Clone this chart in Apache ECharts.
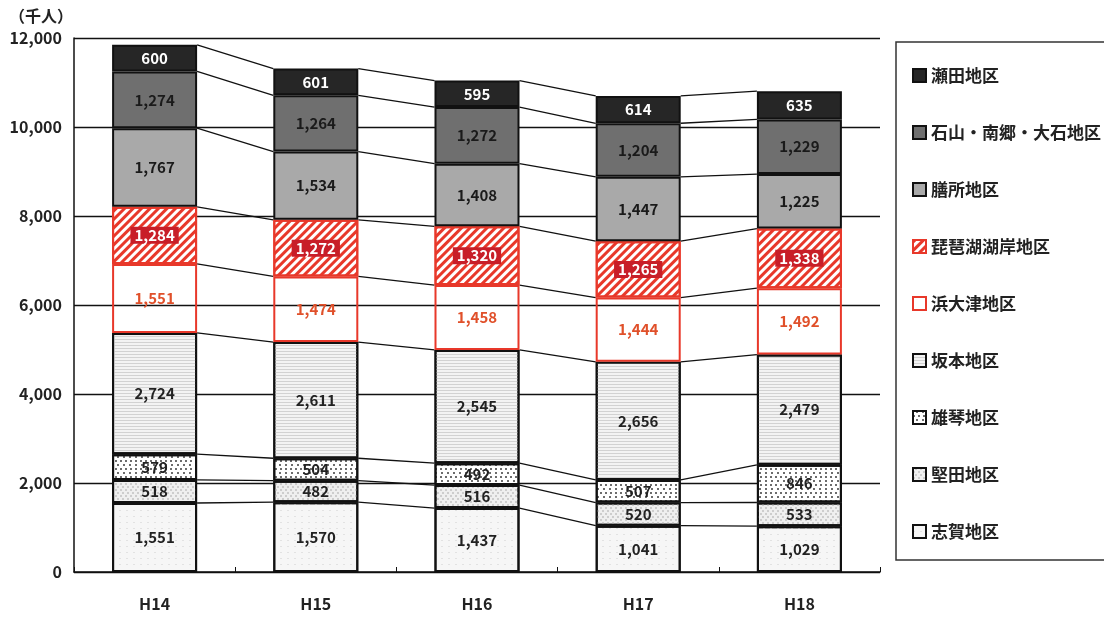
<!DOCTYPE html>
<html>
<head>
<meta charset="utf-8">
<script src="https://cdn.jsdelivr.net/npm/echarts@6/dist/echarts.min.js"></script>
<style>
  html, body { margin: 0; padding: 0; background: #fff; }
  #main { width: 1104px; height: 618px; }
</style>
</head>
<body>
<div id="main"></div>
<script>
// 年度
const years = ['H14', 'H15', 'H16', 'H17', 'H18'];
// 地区別 (千人) 下から順
const shiga = [1551, 1570, 1437, 1041, 1029];
const katata = [518, 482, 516, 520, 533];
const ogoto = [579, 504, 492, 507, 846];
const sakamoto = [2724, 2611, 2545, 2656, 2479];
const hamaotsu = [1551, 1474, 1458, 1444, 1492];
const biwako = [1284, 1272, 1320, 1265, 1338];
const zeze = [1767, 1534, 1408, 1447, 1225];
const ishiyama = [1274, 1264, 1272, 1204, 1229];
const seta = [600, 601, 595, 614, 635];

const yTicks = [0, 2000, 4000, 6000, 8000, 10000, 12000];

const FONT = '"Noto Sans CJK JP", "Noto Sans", sans-serif';
const BAR_W = 85;

function fmt(v) {
    return String(v).replace(/\B(?=(\d{3})+(?!\d))/g, ',');
}

const layers = [
    {name: '志賀地区', data: shiga, color: '#f6f6f6', border: '#111', text: '#222',
        decal: {symbol: 'rect', color: '#e2e2e2', dashArrayX: [2, 5], dashArrayY: [1, 5], symbolSize: 1}},
    {name: '堅田地区', data: katata, color: '#efefef', border: '#111', text: '#222',
        decal: {symbol: 'rect', color: '#cdcdcd', dashArrayX: [[1.5, 2.5], [0, 2, 1.5, 0.5]], dashArrayY: [1.5, 1], symbolSize: 1}},
    {name: '雄琴地区', data: ogoto, color: '#ffffff', border: '#111', text: '#222',
        decal: {symbol: 'rect', color: '#1a1a1a', dashArrayX: [[2, 3], [0, 2.5, 2, 0.5]], dashArrayY: [2, 1.5], symbolSize: 0.85}},
    {name: '坂本地区', data: sakamoto, color: '#f3f3f3', border: '#111', text: '#222',
        decal: {symbol: 'rect', color: '#d2d2d2', dashArrayX: [1, 0], dashArrayY: [1, 2], symbolSize: 1}},
    {name: '浜大津地区', data: hamaotsu, color: 'rgba(255,255,255,0)', border: '#e8382a', text: '#e0502a'},
    {name: '琵琶湖湖岸地区', data: biwako, color: '#ffffff', border: '#e8382a', text: '#ffffff', labelBg: '#c81e28',
        decal: {symbol: 'rect', color: '#e8382a', dashArrayX: [1, 0], dashArrayY: [2.2, 2.2], rotation: -Math.PI / 4, symbolSize: 1}},
    {name: '膳所地区', data: zeze, color: '#a9a9a9', border: '#111', text: '#1a1a1a'},
    {name: '石山・南郷・大石地区', data: ishiyama, color: '#6f6f6f', border: '#111', text: '#1a1a1a'},
    {name: '瀬田地区', data: seta, color: '#262626', border: '#111', text: '#ffffff'}
];

// 積み上げの各境界値
const tops = years.map(function (y, i) {
    let acc = 0;
    return layers.map(function (l) {
        acc += l.data[i];
        return acc;
    });
});

let series = layers.map(function (l) {
    return {
        name: l.name,
        type: 'bar',
        stack: 'total',
        barWidth: BAR_W,
        itemStyle: {
            color: l.color,
            borderColor: l.border,
            borderWidth: 2,
            decal: l.decal || null
        },
        label: {
            show: true,
            position: 'inside',
            fontFamily: FONT,
            fontSize: 15,
            fontWeight: 'bold',
            color: l.text,
            backgroundColor: l.labelBg || 'transparent',
            padding: l.labelBg ? [1, 4] : 0,
            formatter: function (p) { return fmt(p.value); }
        },
        emphasis: {disabled: true},
        data: l.data
    };
});

// 棒と棒をつなぐ線
series.push({
    type: 'custom',
    name: 'links',
    silent: true,
    z: 1,
    data: years.slice(0, -1).map(function (y, i) { return [i]; }),
    renderItem: function (params, api) {
        let i = params.dataIndex;
        let half = BAR_W / 2;
        let children = tops[i].map(function (v, k) {
            let a = api.coord([i, v]);
            let b = api.coord([i + 1, tops[i + 1][k]]);
            return {
                type: 'line',
                shape: {x1: a[0] + half, y1: a[1], x2: b[0] - half, y2: b[1]},
                style: {stroke: '#111', lineWidth: 1.3}
            };
        });
        return {type: 'group', children: children};
    }
});

let chart = echarts.init(document.getElementById('main'));
let option = {
    animation: false,
    title: {
        text: '（千人）',
        left: 4,
        top: 3,
        textStyle: {fontFamily: FONT, fontSize: 16, fontWeight: 'bold', color: '#222'}
    },
    grid: {left: 74, right: 224, top: 38, bottom: 46},
    legend: {
        orient: 'vertical',
        left: 896,
        top: 42,
        padding: [25, 40, 20, 16],
        itemGap: 40,
        itemWidth: 13,
        itemHeight: 13,
        icon: 'rect',
        borderColor: '#333',
        borderWidth: 1.5,
        textStyle: {fontFamily: FONT, fontSize: 17, fontWeight: 'bold', color: '#222'},
        data: layers.map(function (l) { return l.name; }).reverse()
    },
    xAxis: {
        type: 'category',
        data: years,
        axisLine: {lineStyle: {color: '#111', width: 1.5}},
        axisTick: {show: true, inside: true, length: 5, lineStyle: {color: '#111'}},
        axisLabel: {fontFamily: FONT, fontSize: 16, fontWeight: 'bold', color: '#222', margin: 24}
    },
    yAxis: {
        type: 'value',
        min: yTicks[0],
        max: yTicks[yTicks.length - 1],
        interval: 2000,
        axisLine: {show: true, lineStyle: {color: '#111', width: 1.5}},
        axisTick: {show: false},
        splitLine: {lineStyle: {color: '#111', width: 1.3}},
        axisLabel: {
            fontFamily: FONT, fontSize: 16, fontWeight: 'bold', color: '#222', margin: 12,
            formatter: function (v) { return fmt(v); }
        }
    },
    series: series
};
chart.setOption(option);
</script>
</body>
</html>
